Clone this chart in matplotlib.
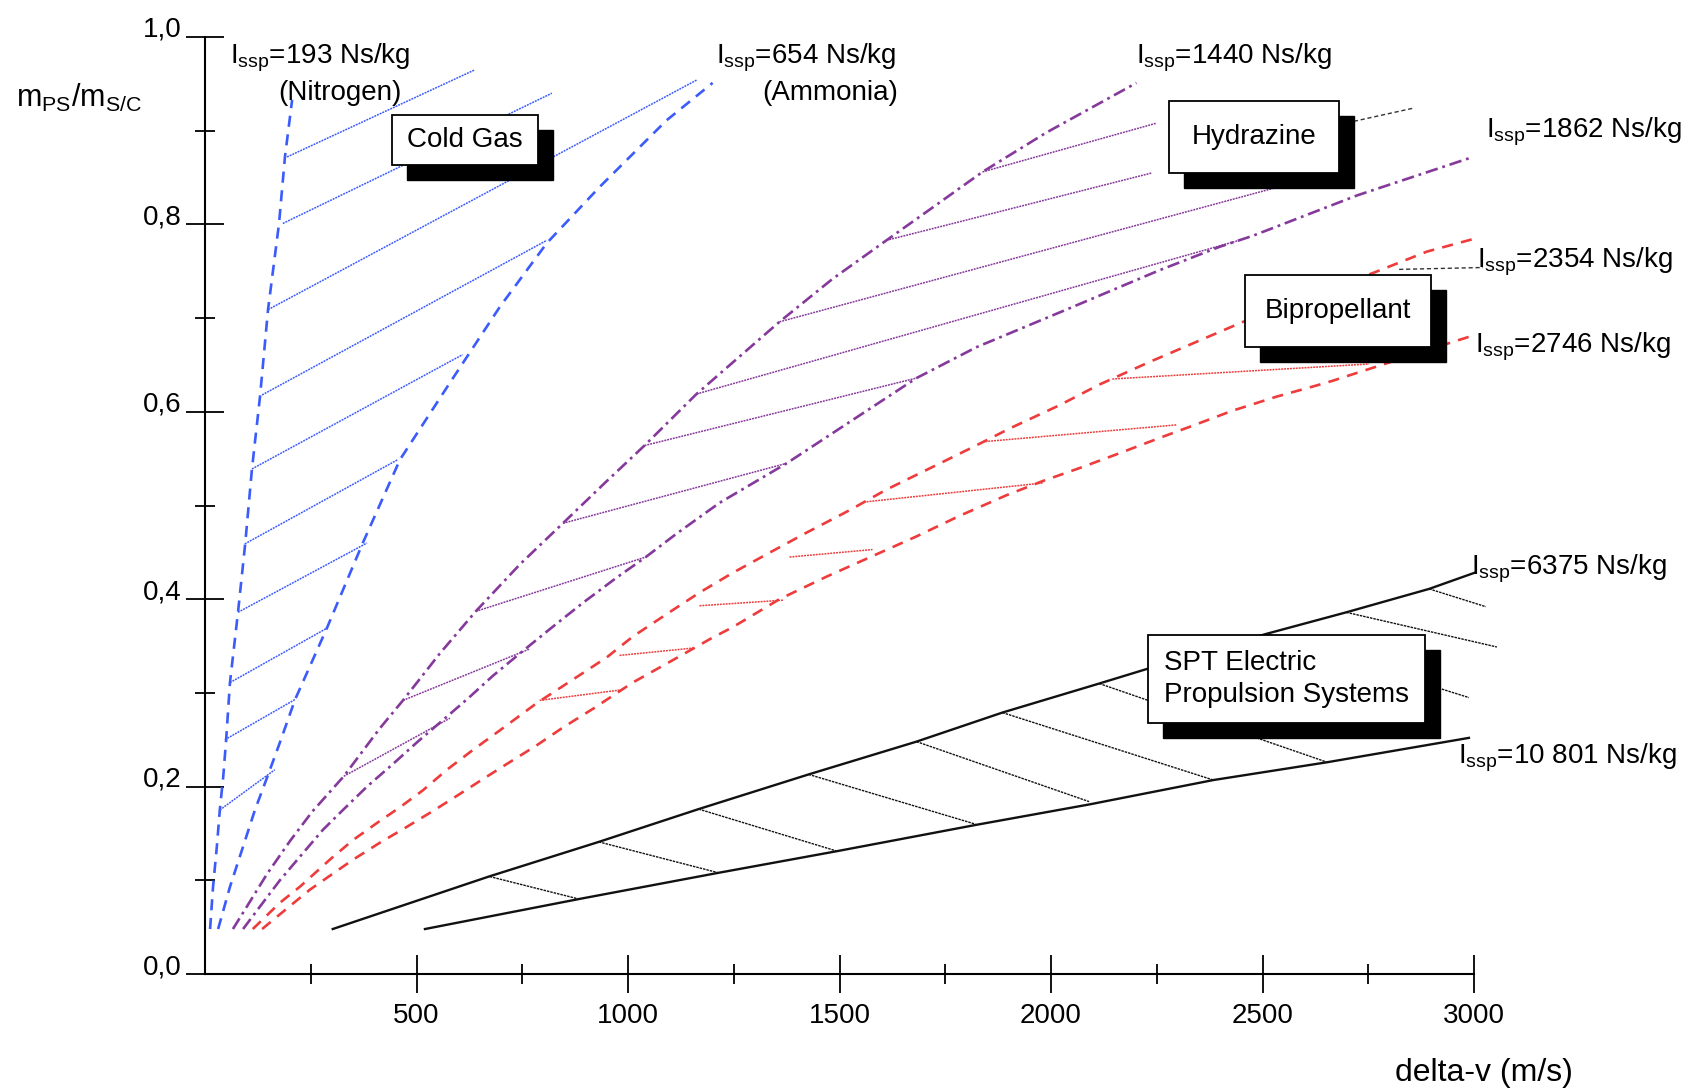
import matplotlib
matplotlib.use("Agg")
import matplotlib.pyplot as plt
from matplotlib.patches import Rectangle

plt.rcParams['font.family'] = ['Liberation Sans', 'DejaVu Sans']
plt.rcParams['lines.scale_dashes'] = False

# cold gas: nitrogen (193) and ammonia (654)
n2_dv = [12, 19, 28, 35, 43, 50, 59, 78, 95, 111, 130, 149, 175, 189, 206]
n2_m = [0.048, 0.093, 0.136, 0.175, 0.210, 0.250, 0.311, 0.386, 0.459, 0.539,
        0.616, 0.709, 0.801, 0.872, 0.933]
nh3_dv = [31, 59, 90, 118, 147, 177, 213, 288, 373, 461, 579, 697, 808, 933, 1091, 1200]
nh3_m = [0.048, 0.093, 0.136, 0.175, 0.210, 0.247, 0.293, 0.369, 0.460, 0.549,
         0.631, 0.712, 0.780, 0.840, 0.911, 0.951]
cold_hatch = [(35, 0.175, 165, 0.218), (47, 0.250, 213, 0.293), (59, 0.311, 288, 0.369),
              (78, 0.386, 383, 0.460), (94, 0.459, 456, 0.549), (111, 0.539, 609, 0.661),
              (135, 0.618, 808, 0.783), (149, 0.709, 1162, 0.954), (184, 0.801, 820, 0.940),
              (194, 0.872, 638, 0.965)]

# hydrazine (1440 / 1862)
h1440_dv = [66, 99, 147, 201, 253, 328, 413, 468, 555, 640, 744, 846, 945, 1039, 1162,
            1358, 1484, 1611, 1720, 1838, 1989, 2202]
h1440_m = [0.048, 0.072, 0.107, 0.142, 0.173, 0.211, 0.262, 0.292, 0.342, 0.387, 0.437,
           0.481, 0.524, 0.564, 0.619, 0.696, 0.742, 0.783, 0.818, 0.856, 0.898, 0.951]
h1862_dv = [90, 130, 177, 224, 279, 326, 383, 444, 503, 565, 624, 680, 744, 815, 893, 973,
            1042, 1115, 1217, 1375, 1682, 1824, 2036, 2256, 2398, 2478, 2724, 2991]
h1862_m = [0.048, 0.072, 0.100, 0.125, 0.154, 0.175, 0.200, 0.224, 0.248, 0.272, 0.295,
           0.318, 0.342, 0.368, 0.396, 0.423, 0.445, 0.470, 0.503, 0.545, 0.636, 0.669,
           0.709, 0.751, 0.776, 0.788, 0.831, 0.871]
hyd_hatch = [(328, 0.211, 579, 0.273), (468, 0.292, 768, 0.347), (640, 0.387, 1042, 0.445),
             (846, 0.481, 1375, 0.545), (1039, 0.564, 1682, 0.636), (1162, 0.619, 2445, 0.783),
             (1358, 0.696, 2587, 0.846), (1611, 0.783, 2239, 0.855), (1838, 0.856, 2249, 0.908)]

# bipropellant (2354 / 2746)
b2354_dv = [113, 177, 224, 295, 350, 406, 461, 515, 572, 633, 697, 784, 869, 950, 1011,
            1091, 1169, 1247, 1328, 1422, 1524, 1611, 1706, 1814, 1906, 2020, 2114, 2232,
            2454, 2766, 2889, 2995]
b2354_m = [0.048, 0.076, 0.093, 0.122, 0.143, 0.161, 0.178, 0.196, 0.218, 0.239, 0.260,
           0.289, 0.314, 0.338, 0.360, 0.384, 0.407, 0.428, 0.448, 0.471, 0.495, 0.517,
           0.538, 0.562, 0.583, 0.607, 0.629, 0.653, 0.696, 0.749, 0.771, 0.784]
b2746_dv = [135, 194, 248, 302, 350, 413, 477, 539, 595, 650, 713, 784, 846, 917, 1011,
            1106, 1200, 1247, 1358, 1469, 1578, 1682, 1784, 1895, 1980, 2074, 2169, 2256,
            2334, 2428, 2532, 2627, 2665, 2939, 2995]
b2746_m = [0.048, 0.070, 0.090, 0.107, 0.122, 0.140, 0.157, 0.174, 0.190, 0.206, 0.224,
           0.244, 0.263, 0.283, 0.311, 0.335, 0.359, 0.370, 0.400, 0.424, 0.446, 0.467,
           0.489, 0.511, 0.526, 0.541, 0.557, 0.572, 0.585, 0.601, 0.616, 0.628, 0.633,
           0.673, 0.681]
bip_hatch = [(791, 0.292, 980, 0.303), (980, 0.340, 1157, 0.348), (1169, 0.393, 1368, 0.399),
             (1382, 0.445, 1578, 0.453), (1564, 0.504, 1980, 0.524), (1838, 0.568, 2296, 0.586),
             (2145, 0.635, 2752, 0.651)]

# SPT electric (6375 / 10 801)
spt1_dv = [302, 671, 931, 1167, 1427, 1682, 1885, 2114, 2230, 2509, 2698, 2894, 3000]
spt1_m = [0.048, 0.104, 0.141, 0.176, 0.213, 0.248, 0.279, 0.310, 0.326, 0.363, 0.386,
          0.411, 0.428]
spt2_dv = [520, 884, 1214, 1493, 1821, 2091, 2384, 2653, 2988]
spt2_m = [0.048, 0.080, 0.108, 0.131, 0.159, 0.181, 0.207, 0.226, 0.252]
spt_hatch = [(673, 0.104, 884, 0.080), (931, 0.141, 1214, 0.108), (1167, 0.176, 1495, 0.131),
             (1427, 0.213, 1821, 0.160), (1682, 0.248, 2090, 0.184), (1885, 0.279, 2384, 0.207),
             (2114, 0.310, 2653, 0.226), (2509, 0.363, 2988, 0.295), (2698, 0.386, 3054, 0.349),
             (2894, 0.411, 3028, 0.392)]

leaders = [(2716, 0.910, 2856, 0.924), (2823, 0.752, 3021, 0.754)]

x_major = [500, 1000, 1500, 2000, 2500, 3000]
x_minor = [250, 750, 1250, 1750, 2250, 2750]
y_major = [0.0, 0.2, 0.4, 0.6, 0.8, 1.0]
y_minor = [0.1, 0.3, 0.5, 0.7, 0.9]
y_labels = ['0,0', '0,2', '0,4', '0,6', '0,8', '1,0']

blue = '#3b5bfb'
purple = '#85399b'
red = '#ee3b3b'
black = '#111111'

fig = plt.figure(figsize=(16.95, 10.9), dpi=100)
ax = fig.add_axes([205 / 1695, 116 / 1090, 1269 / 1695, 937 / 1090])
ax.set_xlim(0, 3000)
ax.set_ylim(0, 1)


def hatch(segs, color, lw=1.1, dashes=(1.4, 0.7)):
    for x0, y0, x1, y1 in segs:
        ax.plot([x0, x1], [y0, y1], color=color, lw=lw, dashes=dashes,
                clip_on=False, zorder=2)


hatch(cold_hatch, blue)
ax.plot(n2_dv, n2_m, color=blue, lw=1.9, dashes=(8, 5.5), zorder=3)
ax.plot(nh3_dv, nh3_m, color=blue, lw=1.9, dashes=(8, 5.5), zorder=3)

hatch(hyd_hatch, purple)
ax.plot(h1440_dv, h1440_m, color=purple, lw=1.9, dashes=(9, 3.5, 2, 3.5), zorder=3)
ax.plot(h1862_dv, h1862_m, color=purple, lw=1.9, dashes=(9, 3.5, 2, 3.5), zorder=3,
        clip_on=False)

hatch(bip_hatch, red)
ax.plot(b2354_dv, b2354_m, color=red, lw=1.9, dashes=(8, 6), zorder=3)
ax.plot(b2746_dv, b2746_m, color=red, lw=1.9, dashes=(8, 6), zorder=3)

hatch(spt_hatch, black, lw=1.0, dashes=(1.8, 0.7))
ax.plot(spt1_dv, spt1_m, color=black, lw=1.7, zorder=3, clip_on=False)
ax.plot(spt2_dv, spt2_m, color=black, lw=1.7, zorder=3)

for x0, y0, x1, y1 in leaders:
    ax.plot([x0, x1], [y0, y1], color='#333333', lw=1.0, dashes=(3, 2),
            clip_on=False, zorder=2)


def box(x0, x1, y0, y1, text, ha='center', tx=None):
    ax.add_patch(Rectangle((x0 + 35, y0 - 0.016), x1 - x0, y1 - y0, fc='black',
                           ec='black', lw=1, zorder=5, clip_on=False))
    ax.add_patch(Rectangle((x0, y0), x1 - x0, y1 - y0, fc='white', ec='black',
                           lw=1.3, zorder=6, clip_on=False))
    if tx is None:
        tx = (x0 + x1) / 2
    ax.text(tx, (y0 + y1) / 2, text, ha=ha, va='center', fontsize=20,
            linespacing=1.3, zorder=7)


box(442, 787, 0.863, 0.917, 'Cold Gas')
box(2280, 2681, 0.855, 0.932, 'Hydrazine')
box(2459, 2898, 0.669, 0.746, 'Bipropellant')
box(2230, 2884, 0.268, 0.362, 'SPT Electric\nPropulsion Systems', ha='left', tx=2268)

isp = r'$\mathregular{I_{ssp}}$'
labels = [(60, 0.972, isp + '=193 Ns/kg'), (172, 0.933, '(Nitrogen)'),
          (1208, 0.972, isp + '=654 Ns/kg'), (1318, 0.933, '(Ammonia)'),
          (2200, 0.972, isp + '=1440 Ns/kg'), (3029, 0.893, isp + '=1862 Ns/kg'),
          (3008, 0.754, isp + '=2354 Ns/kg'), (3003, 0.663, isp + '=2746 Ns/kg'),
          (2994, 0.426, isp + '=6375 Ns/kg'), (2961, 0.225, isp + '=10 801 Ns/kg')]
for x, y, s in labels:
    ax.text(x, y, s, fontsize=20, ha='left', va='baseline', zorder=8)

ax.text(-446, 0.925, r'$\mathregular{m_{PS}/m_{S/C}}$', fontsize=22, ha='left',
        va='baseline')
ax.text(2813, -0.114, 'delta-v (m/s)', fontsize=23, ha='left', va='baseline')

for s in ['top', 'right']:
    ax.spines[s].set_visible(False)
ax.spines['left'].set_bounds(0, 1)
ax.spines['bottom'].set_bounds(0, 3000)
ax.spines['left'].set_linewidth(1.5)
ax.spines['bottom'].set_linewidth(1.5)

ax.set_xticks(x_major)
ax.set_xticks(x_minor, minor=True)
ax.set_yticks(y_major)
ax.set_yticks(y_minor, minor=True)
ax.set_yticklabels(y_labels)
ax.tick_params(which='major', direction='inout', length=28, width=1.3, labelsize=20)
ax.tick_params(which='minor', direction='inout', length=15, width=1.3)
ax.tick_params(axis='x', pad=7)
ax.tick_params(axis='y', pad=3)
plt.setp(ax.get_yticklabels(), va='baseline')

fig.savefig('out.png', dpi=100)
